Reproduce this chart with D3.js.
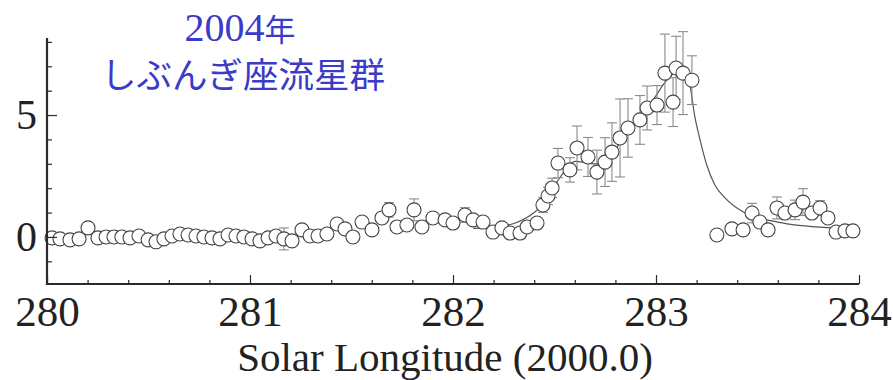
<!DOCTYPE html>
<html>
<head>
<meta charset="utf-8">
<script src="https://cdn.jsdelivr.net/npm/d3@7/dist/d3.min.js"></script>
<style>
  html, body { margin: 0; padding: 0; background: #fff; }
  svg { display: block; }
</style>
</head>
<body>
<svg id="chart" width="893" height="380"></svg>
<script>
// Quadrantids 2004: ZHR-like activity versus solar longitude (J2000.0)
const titleLines = ["2004年", "しぶんぎ座流星群"];
const xLabel = "Solar Longitude (2000.0)";
const xTicks = [280, 281, 282, 283, 284];
const yTicks = [0, 5];

// observed activity: solar longitude, rate, error half-width (0 = no bar)
const lon = [
  280.025, 280.064, 280.113, 280.158, 280.202, 280.251, 280.291, 280.330, 280.369, 280.409,
  280.453, 280.498, 280.537, 280.576, 280.616, 280.655, 280.695, 280.734, 280.773, 280.813,
  280.852, 280.892, 280.931, 280.970, 281.010, 281.049, 281.089, 281.128, 281.167, 281.207,
  281.256, 281.296, 281.335, 281.379, 281.429, 281.468, 281.507, 281.552, 281.601, 281.650,
  281.685, 281.724, 281.773, 281.808, 281.847, 281.901, 281.961, 282.000, 282.059, 282.099,
  282.148, 282.197, 282.241, 282.281, 282.330, 282.365, 282.414, 282.443, 282.468, 282.488,
  282.517, 282.576, 282.611, 282.665, 282.709, 282.749, 282.783, 282.823, 282.862, 282.921,
  282.956, 283.005, 283.044, 283.084, 283.099, 283.133, 283.177,
  283.300, 283.374, 283.429, 283.473, 283.512, 283.552, 283.596, 283.635, 283.685, 283.724,
  283.768, 283.808, 283.847, 283.887, 283.931, 283.970
];
const rate = [
  -0.04, -0.08, -0.12, -0.08, 0.37, -0.04, 0.00, 0.00, 0.00, -0.04,
  0.04, -0.12, -0.20, -0.08, 0.04, 0.12, 0.08, 0.04, 0.00, -0.04,
  -0.08, 0.08, 0.04, 0.00, -0.08, -0.16, -0.04, 0.04, -0.08, -0.16,
  0.29, 0.04, 0.04, 0.12, 0.53, 0.33, 0.00, 0.61, 0.29, 0.78,
  1.11, 0.41, 0.49, 1.11, 0.41, 0.78, 0.70, 0.57, 0.90, 0.70,
  0.61, 0.20, 0.37, 0.16, 0.16, 0.41, 0.57, 1.31, 1.68, 2.01,
  3.03, 2.75, 3.65, 3.28, 2.66, 3.07, 3.48, 4.06, 4.47, 4.80,
  5.29, 5.41, 6.72, 5.53, 6.93, 6.72, 6.43,
  0.08, 0.33, 0.29, 0.98, 0.61, 0.29, 1.19, 0.98, 1.11, 1.43,
  0.98, 1.19, 0.78, 0.20, 0.25, 0.25
];
const err = [
  0, 0, 0, 0, 0, 0, 0, 0, 0, 0,
  0, 0, 0, 0, 0, 0, 0, 0, 0, 0,
  0, 0, 0, 0, 0, 0, 0, 0, 0.45, 0,
  0, 0, 0, 0, 0.2, 0, 0, 0, 0, 0,
  0.3, 0, 0, 0.45, 0, 0, 0, 0, 0.3, 0,
  0, 0, 0, 0, 0, 0, 0, 0.3, 0.35, 0.4,
  0.6, 0.5, 0.9, 0.8, 0.9, 1.0, 1.2, 1.6, 1.2, 1.0,
  0.9, 0.8, 1.6, 1.0, 1.3, 1.7, 1.0,
  0, 0, 0, 0.4, 0, 0, 0.45, 0, 0.4, 0.55,
  0, 0.3, 0, 0, 0, 0
];

// fitted activity profile
const modelLon  = [282.10, 282.20, 282.30, 282.40, 282.45, 282.50, 282.55, 282.60, 282.70, 282.75,
                   282.80, 282.85, 282.90, 282.95, 283.00, 283.05, 283.10, 283.14, 283.167, 283.19,
                   283.217, 283.25, 283.29, 283.34, 283.43, 283.60, 283.87, 283.98];
const modelRate = [0.35, 0.40, 0.55, 1.00, 1.40, 2.10, 2.70, 3.10, 3.00, 3.20,
                   3.60, 4.20, 4.70, 5.20, 5.80, 6.40, 6.75, 6.70, 6.23, 5.00,
                   3.98, 2.95, 2.13, 1.60, 1.02, 0.61, 0.37, 0.33];

const svg = d3.select("#chart");
const x = d3.scaleLinear().domain([280, 284]).range([47, 859]);
const y = d3.scaleLinear().domain([-1.93, 8.16]).range([284, 38]);

const axisColor = "#2a2a2a";
const tickFont = "'Liberation Serif', 'Times New Roman', serif";

// title
const title = svg.append("g").attr("fill", "#3b3bc8");
title.append("text")
  .attr("x", 240).attr("y", 41)
  .attr("text-anchor", "middle")
  .call(t => {
    t.append("tspan").attr("font-family", tickFont).attr("font-size", 40).text(titleLines[0].slice(0, 4));
    t.append("tspan").attr("font-family", "'Noto Sans CJK JP', sans-serif").attr("font-size", 31).text(titleLines[0].slice(4));
  });
title.append("text")
  .attr("x", 243).attr("y", 88)
  .attr("text-anchor", "middle")
  .attr("font-family", "'Noto Sans CJK JP', sans-serif")
  .attr("font-size", 35.5)
  .text(titleLines[1]);

// model curve
const line = d3.line().x((d, i) => x(modelLon[i])).y((d, i) => y(modelRate[i])).curve(d3.curveMonotoneX);
svg.append("path")
  .datum(modelLon)
  .attr("d", line)
  .attr("fill", "none")
  .attr("stroke", "#555")
  .attr("stroke-width", 1.2);

const pts = lon.map((l, i) => ({ l, r: rate[i], e: err[i] }));

// error bars
const eb = svg.append("g").attr("stroke", "#8a8a8a").attr("stroke-width", 1.1);
pts.filter(d => d.e > 0).forEach(d => {
  const cx = x(d.l), y0 = y(d.r - d.e), y1 = y(d.r + d.e);
  eb.append("line").attr("x1", cx).attr("x2", cx).attr("y1", y0).attr("y2", y1);
  eb.append("line").attr("x1", cx - 5).attr("x2", cx + 5).attr("y1", y0).attr("y2", y0);
  eb.append("line").attr("x1", cx - 5).attr("x2", cx + 5).attr("y1", y1).attr("y2", y1);
});

// data points
svg.append("g")
  .selectAll("circle")
  .data(pts)
  .join("circle")
  .attr("cx", d => x(d.l))
  .attr("cy", d => y(d.r))
  .attr("r", 7)
  .attr("fill", "#fff")
  .attr("stroke", "#444")
  .attr("stroke-width", 1.1);

// x axis: major ticks at integers, minor every 0.2, ticks pointing up
const xMinor = d3.range(0, 21).map(i => 280 + i * 0.2);
const xAxisG = svg.append("g").attr("transform", `translate(0,${y.range()[0]})`);
xAxisG.call(d3.axisTop(x).tickValues(xMinor).tickSize(4).tickFormat(""));
xAxisG.call(g => g.selectAll(".tick line").filter(d => Math.abs(d - Math.round(d)) < 1e-6).attr("y2", -9));
xAxisG.select(".domain").remove();
xAxisG.selectAll(".tick line").attr("stroke", axisColor).attr("stroke-width", 1.2);

const xLab = svg.append("g").attr("transform", `translate(0,${y.range()[0]})`)
  .call(d3.axisBottom(x).tickValues(xTicks).tickSize(0).tickPadding(12).tickFormat(d3.format("d")));
xLab.select(".domain").remove();
xLab.selectAll("text").attr("font-family", tickFont).attr("font-size", 43).attr("fill", "#222").attr("dy", "0.7em");

// y axis: major at 0 and 5, minor every unit, ticks pointing right
const yMinor = d3.range(-1, 9);
const yAxisG = svg.append("g").attr("transform", `translate(${x.range()[0]},0)`);
yAxisG.call(d3.axisRight(y).tickValues(yMinor).tickSize(5).tickFormat(""));
yAxisG.call(g => g.selectAll(".tick line").filter(d => yTicks.includes(d)).attr("x2", 10));
yAxisG.select(".domain").remove();
yAxisG.selectAll(".tick line").attr("stroke", axisColor).attr("stroke-width", 1.2);

const yLab = svg.append("g").attr("transform", `translate(${x.range()[0]},0)`)
  .call(d3.axisLeft(y).tickValues(yTicks).tickSize(0).tickPadding(10).tickFormat(d3.format("d")));
yLab.select(".domain").remove();
yLab.selectAll("text").attr("font-family", tickFont).attr("font-size", 42).attr("fill", "#222");

// frame lines (left and bottom)
svg.append("path")
  .attr("d", `M${x.range()[0]},${y.range()[1]}V${y.range()[0]}H${x.range()[1]}`)
  .attr("fill", "none")
  .attr("stroke", axisColor)
  .attr("stroke-width", 2.2);

// x axis title
svg.append("text")
  .attr("x", 445).attr("y", 371)
  .attr("text-anchor", "middle")
  .attr("font-family", tickFont)
  .attr("font-size", 41)
  .attr("fill", "#222")
  .text(xLabel);
</script>
</body>
</html>
